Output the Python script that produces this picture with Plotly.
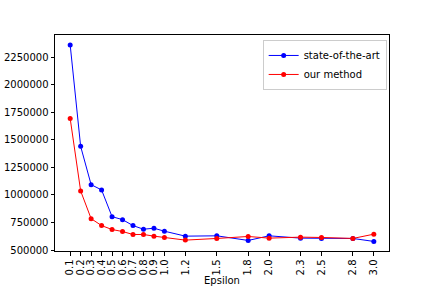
import plotly.graph_objects as go

epsilon = [0.1, 0.2, 0.3, 0.4, 0.5, 0.6, 0.7, 0.8, 0.9, 1.0, 1.2, 1.5, 1.8, 2.0, 2.3, 2.5, 2.8, 3.0]
tick_labels = ["0.1", "0.2", "0.3", "0.4", "0.5", "0.6", "0.7", "0.8", "0.9", "1.0",
               "1.2", "1.5", "1.8", "2.0", "2.3", "2.5", "2.8", "3.0"]
state_of_the_art = [2364000, 1442000, 1094000, 1046000, 803000, 776000, 722000, 689000, 698000,
                    671000, 626000, 629000, 587000, 629000, 608000, 605000, 605000, 578000]
our_method = [1695000, 1037000, 785000, 722000, 686000, 668000, 641000, 641000, 626000,
              614000, 590000, 605000, 623000, 608000, 617000, 614000, 605000, 644000]
y_ticks = [500000, 750000, 1000000, 1250000, 1500000, 1750000, 2000000, 2250000]

fig = go.Figure()
fig.add_trace(go.Scatter(x=epsilon, y=state_of_the_art, mode="lines+markers", name="state-of-the-art",
                         line=dict(color="#0000ff", width=1), marker=dict(size=5, color="#0000ff")))
fig.add_trace(go.Scatter(x=epsilon, y=our_method, mode="lines+markers", name="our method",
                         line=dict(color="#ff0000", width=1), marker=dict(size=5, color="#ff0000")))

axis_common = dict(showline=True, linecolor="black", linewidth=1, mirror=True, showgrid=False,
                   zeroline=False, ticks="outside", ticklen=3.5, tickwidth=1, tickcolor="black",
                   automargin=False,
                   tickfont=dict(family="DejaVu Sans", size=10, color="black"))

fig.update_xaxes(range=[-0.045, 3.145], tickvals=epsilon, ticktext=tick_labels, tickangle=-90,
                 title=dict(text="Epsilon", font=dict(family="DejaVu Sans", size=10, color="black"), standoff=2),
                 **axis_common)
fig.update_yaxes(range=[491000, 2454000], tickvals=y_ticks, ticktext=[str(v) for v in y_ticks],
                 **axis_common)

fig.update_layout(
    width=432, height=288,
    margin=dict(l=55, r=43, t=35, b=37),
    plot_bgcolor="white", paper_bgcolor="white",
    font=dict(family="DejaVu Sans", size=10, color="black"),
    legend=dict(x=0.993, y=0.977, xanchor="right", yanchor="top", bordercolor="#cccccc", borderwidth=1,
                bgcolor="rgba(255,255,255,0.8)", font=dict(size=10), tracegroupgap=0, itemwidth=30),
    showlegend=True,
)

fig.write_html("out.html", config={"displayModeBar": False},
               post_script="document.body.style.margin='0';document.body.style.overflow='hidden';")
